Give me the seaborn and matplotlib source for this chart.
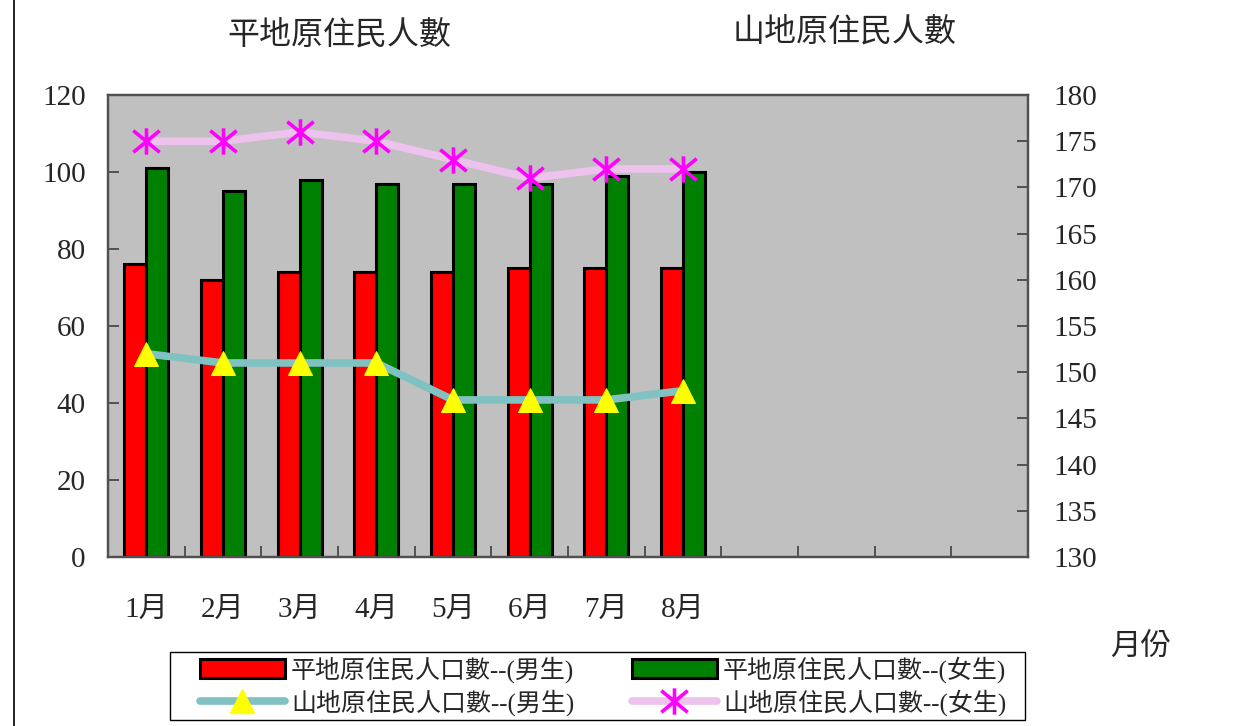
import numpy as np
import pandas as pd
import matplotlib
matplotlib.use("Agg")
import matplotlib.pyplot as plt
import seaborn as sns
from matplotlib.lines import Line2D
from matplotlib.patches import Patch, Rectangle
from matplotlib.path import Path

# ---- data ----
months = ['1月', '2月', '3月', '4月', '5月', '6月', '7月', '8月']
all_slots = months + ['9月', '10月', '11月', '12月']
plain_male = [76, 72, 74, 74, 74, 75, 75, 75]
plain_female = [101, 95, 98, 97, 97, 97, 99, 100]
mountain_male = [152, 151, 151, 151, 147, 147, 147, 148]
mountain_female = [175, 175, 176, 175, 173, 171, 172, 172]
series_names = ['平地原住民人口數--(男生)', '平地原住民人口數--(女生)',
                '山地原住民人口數--(男生)', '山地原住民人口數--(女生)']
left_ticks = [0, 20, 40, 60, 80, 100, 120]
right_ticks = [130, 135, 140, 145, 150, 155, 160, 165, 170, 175, 180]

sns.set_theme(style="white")
plt.rcParams['font.family'] = ['Liberation Serif', 'Noto Sans CJK TC', 'DejaVu Sans']

# asterisk-like marker: vertical bar plus an X
star = Path([(0, 1), (0, -1), (-1, 0.82), (1, -0.82), (-1, -0.82), (1, 0.82)],
            [Path.MOVETO, Path.LINETO, Path.MOVETO, Path.LINETO, Path.MOVETO, Path.LINETO])

CYAN = '#80C2C2'
PINK = '#EDC2ED'

W, H = 1257, 726
fig = plt.figure(figsize=(W / 100, H / 100), dpi=100)
ax = fig.add_axes([108 / W, 1 - 557 / H, 920 / W, 462 / H])
ax.set_facecolor('#C0C0C0')

df = pd.DataFrame({
    'month': months * 2,
    'value': plain_male + plain_female,
    'series': [series_names[0]] * len(months) + [series_names[1]] * len(months),
})
sns.barplot(data=df, x='month', y='value', hue='series', order=all_slots,
            hue_order=series_names[:2], palette=['#FF0000', '#008000'],
            width=0.574, edgecolor='black', linewidth=2.2, saturation=1,
            legend=False, ax=ax, zorder=2)

ax.set_ylim(0, 120)
ax.set_xlim(-0.5, len(all_slots) - 0.5)
ax.set_yticks(left_ticks)
ax.set_xlabel('')
ax.set_ylabel('')

ax.set_xticks(np.arange(-0.5, len(all_slots)), labels=[''] * (len(all_slots) + 1))
ax.set_xticks(np.arange(len(all_slots)), minor=True)
ax.set_xticklabels(months + [''] * 4, minor=True)
ax.tick_params(axis='x', which='major', direction='in', length=8, width=1.2,
               color='#404040', bottom=True)
ax.tick_params(axis='x', which='minor', length=0, pad=29, labelsize=21, bottom=True)
ax.tick_params(axis='y', direction='in', length=8, width=1.2, color='#404040',
               labelsize=21, pad=16, left=True)

ax2 = ax.twinx()
ax2.set_ylim(130, 180)
xs = np.arange(len(months))
sns.lineplot(x=xs, y=mountain_male, ax=ax2, color=CYAN, linewidth=5.5,
             marker='^', markersize=17, markerfacecolor='#FFFF00',
             markeredgecolor='#FFFF00', zorder=3)
sns.lineplot(x=xs, y=mountain_female, ax=ax2, color=PINK, linewidth=5.5,
             marker=star, markersize=19, markeredgewidth=2.6,
             markeredgecolor='#FF00FF', markerfacecolor='#FF00FF', zorder=3)
ax2.set_yticks(right_ticks)
ax2.set_xlim(-0.5, len(all_slots) - 0.5)
ax2.tick_params(axis='y', direction='in', length=8, width=1.2, color='#404040',
                labelsize=21, pad=18, right=True)
ax2.set_ylabel('')

for a in (ax, ax2):
    for s in a.spines.values():
        s.set_color('#505050')
        s.set_linewidth(1.6)

# titles
fig.text(339 / W, 1 - 35 / H, '平地原住民人數', ha='center', va='center', fontsize=23)
fig.text(845 / W, 1 - 32 / H, '山地原住民人數', ha='center', va='center', fontsize=23)
fig.text(1141 / W, 1 - 648 / H, '月份', ha='center', va='center', fontsize=22)

# left border line of the figure
fig.add_artist(Line2D([14 / W, 14 / W], [0, 1], color='black', linewidth=1.2))

# legend frame
fig.add_artist(Rectangle((170 / W, 1 - 720 / H), 855 / W, 68 / H,
                         transform=fig.transFigure, facecolor='white',
                         edgecolor='black', linewidth=1.0, zorder=0))

handles = [
    Patch(facecolor='#FF0000', edgecolor='black', linewidth=2.2),
    Line2D([], [], color=CYAN, linewidth=5.5, marker='^', markersize=17,
           markerfacecolor='#FFFF00', markeredgecolor='#FFFF00'),
    Patch(facecolor='#008000', edgecolor='black', linewidth=2.2),
    Line2D([], [], color=PINK, linewidth=5.5, marker=star, markersize=19,
           markeredgewidth=2.6, markeredgecolor='#FF00FF'),
]
labels = [series_names[0], series_names[2], series_names[1], series_names[3]]
leg = fig.legend(handles, labels, loc='center',
                 bbox_to_anchor=(603 / W, 1 - 686 / H), ncol=2, fontsize=18,
                 frameon=False, handlelength=3.4, handleheight=0.8,
                 handletextpad=0.25, columnspacing=2.3, labelspacing=0.25,
                 borderpad=0.2)

fig.savefig('out.png', dpi=100)
